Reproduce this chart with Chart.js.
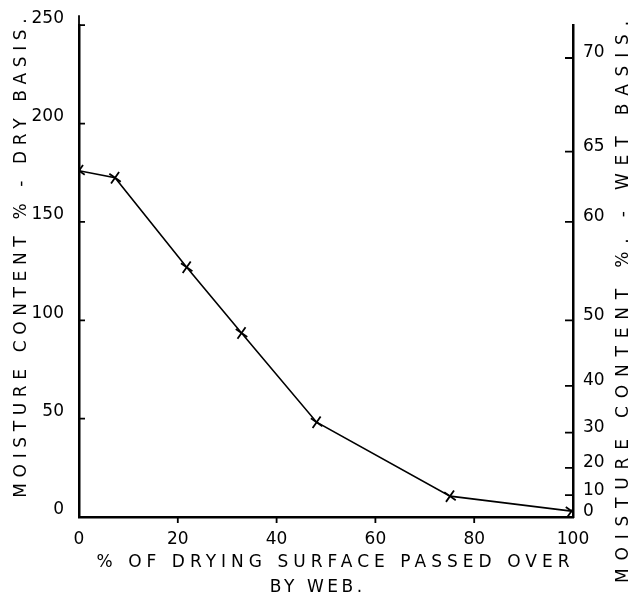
<!DOCTYPE html>
<html>
<head>
<meta charset="utf-8">
<script src="https://cdn.jsdelivr.net/npm/chart.js@4/dist/chart.umd.min.js"></script>
<style>
  html, body { margin: 0; padding: 0; background: #fff; }
  #wrap { width: 637px; height: 599px; position: relative; }
</style>
</head>
<body>
<div id="wrap"><canvas id="myChart"></canvas></div>
<script>
const surfacePassed = [0, 7.3, 21.8, 32.9, 48.1, 75.1, 99.7];
const moistureDry = [176, 172.5, 127, 93.5, 48.2, 10.6, 3];
const xTicks = [0, 20, 40, 60, 80, 100];
const dryTicks = [0, 50, 100, 150, 200, 250];
const wetTicks = [0, 10, 20, 30, 40, 50, 60, 65, 70];

const font = 'DejaVu Sans';

// wet basis % -> dry basis % (where the right-hand tick sits)
const wetToDry = w => w * 100 / (100 - w);

function spacedText(ctx, text, cx, cy, width, angle) {
  ctx.save();
  ctx.translate(cx, cy);
  ctx.rotate(angle);
  ctx.letterSpacing = '0px';
  const w0 = ctx.measureText(text).width;
  const sp = Math.max(0, (width - w0) / text.length);
  ctx.letterSpacing = sp + 'px';
  ctx.textAlign = 'center';
  ctx.textBaseline = 'middle';
  ctx.fillText(text, sp / 2, 0);
  ctx.restore();
}

const handPlugin = {
  id: 'hand',
  afterDraw(chart) {
    const ctx = chart.ctx;
    const {x, y, y2} = chart.scales;
    ctx.save();
    ctx.strokeStyle = '#000';
    ctx.lineWidth = 1.8;
    ctx.beginPath();
    // left ticks point inward
    dryTicks.forEach(v => {
      if (v === 0) return;
      const py = y.getPixelForValue(v);
      ctx.moveTo(x.left, py); ctx.lineTo(x.left + 6, py);
    });
    // right ticks point inward
    wetTicks.forEach(w => {
      if (w === 0) return;
      const py = y2.getPixelForValue(wetToDry(w));
      ctx.moveTo(x.right, py); ctx.lineTo(x.right - 8, py);
    });
    // bottom ticks point down
    xTicks.forEach(v => {
      if (v === 0 || v === 100) return;
      const px = x.getPixelForValue(v);
      ctx.moveTo(px, y.bottom); ctx.lineTo(px, y.bottom + 6);
    });
    // left axis runs a little past the top tick
    ctx.moveTo(x.left, y.top); ctx.lineTo(x.left, y.top - 10);
    ctx.stroke();

    ctx.fillStyle = '#000';
    ctx.font = '17px "' + font + '"';
    spacedText(ctx, 'MOISTURE CONTENT % - DRY BASIS.', 22, 258, 485, -Math.PI / 2);
    spacedText(ctx, 'MOISTURE CONTENT %. - WET BASIS.', 624, 302, 570, -Math.PI / 2);
    spacedText(ctx, '% OF DRYING SURFACE PASSED OVER', 333, 563, 478, 0);
    spacedText(ctx, 'BY WEB.', 316, 588, 96, 0);
    ctx.restore();
  }
};

const ctx = document.getElementById('myChart');

const myChart = new Chart(ctx, {
  type: 'line',
  data: {
    datasets: [{
      label: 'Moisture content',
      data: surfacePassed.map((v, i) => ({x: v, y: moistureDry[i]})),
      borderColor: '#000',
      backgroundColor: '#000',
      borderWidth: 1.6,
      pointStyle: 'cross',
      pointRotation: 35,
      pointRadius: 7,
      pointBorderWidth: 1.8,
      tension: 0,
      fill: false,
    }],
  },
  options: {
    responsive: true,
    maintainAspectRatio: false,
    animation: false,
    layout: { padding: { top: 23 } },
    plugins: {
      legend: { display: false },
      tooltip: { enabled: false },
    },
    scales: {
      x: {
        type: 'linear',
        min: 0,
        max: 100,
        afterBuildTicks: s => { s.ticks = xTicks.map(v => ({value: v})); },
        afterFit: s => { s.height = 82; },
        grid: { display: false, drawTicks: false },
        border: { display: true, color: '#000', width: 2.5 },
        ticks: {
          autoSkip: false,
          maxRotation: 0,
          padding: 12,
          color: '#000',
          font: { family: font, size: 17 },
        },
      },
      y: {
        type: 'linear',
        position: 'left',
        min: 0,
        max: 250,
        afterBuildTicks: s => { s.ticks = dryTicks.map(v => ({value: v})); },
        afterFit: s => { s.width = 79; },
        grid: { display: false, drawTicks: false },
        border: { display: true, color: '#000', width: 2.5 },
        ticks: {
          autoSkip: false,
          padding: 15,
          labelOffset: -7,
          color: '#000',
          font: { family: font, size: 17 },
        },
      },
      y2: {
        type: 'linear',
        position: 'right',
        min: 0,
        max: 250,
        afterBuildTicks: s => { s.ticks = wetTicks.map(w => ({value: wetToDry(w)})); },
        afterFit: s => { s.width = 64; },
        grid: { display: false, drawTicks: false },
        border: { display: true, color: '#000', width: 2.5 },
        ticks: {
          autoSkip: false,
          padding: 10,
          labelOffset: -5,
          color: '#000',
          font: { family: font, size: 17 },
          callback: (v, i) => String(wetTicks[i]),
        },
      },
    },
  },
  plugins: [handPlugin],
});
</script>
</body>
</html>
